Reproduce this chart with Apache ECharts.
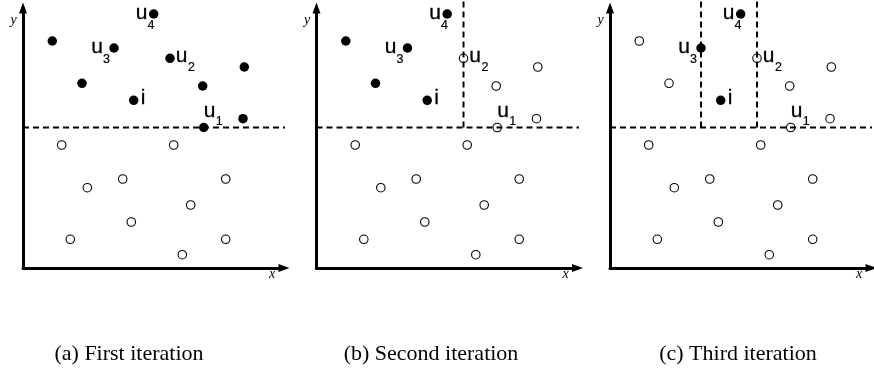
<!DOCTYPE html>
<html>
<head>
<meta charset="utf-8">
<script src="https://cdn.jsdelivr.net/npm/echarts@6/dist/echarts.min.js"></script>
<style>
  html, body { margin: 0; padding: 0; background: #fff; }
  #chart { width: 874px; height: 374px; }
</style>
</head>
<body>
<div id="chart"></div>
<script>
// Point set in plot units (origin at the axes corner).
const pointNames = ['a', 'u4', 'u3', 'u2', 'b', 'c', 'd', 'i', 'e', 'u1',
                    'o1', 'o2', 'o3', 'o4', 'o5', 'o6', 'o7', 'o8', 'o9', 'o10'];
const pointX = [29.3, 130.7, 91, 147, 221.3, 59, 179.7, 110.7, 220, 180.7,
                38.7, 150.7, 99.7, 202.7, 64.3, 167.7, 108.3, 47.3, 202.7, 159.3];
const pointY = [227, 254, 220, 209.7, 201, 184.7, 182, 167.7, 149.3, 140.5,
                123, 123, 89, 89, 80.3, 63, 46, 28.7, 28.7, 13.3];

// Points still candidates at each iteration (drawn filled).
const filledByStep = [
  ['a', 'u4', 'u3', 'u2', 'b', 'c', 'd', 'i', 'e', 'u1'],
  ['a', 'u4', 'u3', 'c', 'i'],
  ['u4', 'u3', 'i']
];
// Points that cut the space: the first gives the horizontal cut, the others vertical cuts.
const cutsByStep = [['u1'], ['u1', 'u2'], ['u1', 'u2', 'u3']];
const regionSize = 268;

const captions = ['(a) First iteration', '(b) Second iteration', '(c) Third iteration'];
const labelNames = ['u1', 'u2', 'u3', 'u4', 'i'];
const labelMain = ['u', 'u', 'u', 'u', 'i'];
const labelSub = ['1', '2', '3', '4', ''];

// ---- layout ----
const panelLeft = [23, 316.5, 610];
const plotTop = 8, plotW = 261, plotH = 260;
const captionX = [129, 431, 738];
const captionY = 354;
const labelOffset = {
  u1: { main: [5.8, -16], sub: [15.5, -5.6] },
  u2: { main: [11.7, -2.2], sub: [21.5, 9.5] },
  u3: { main: [-17, -0.3], sub: [-7.5, 11.5] },
  u4: { main: [-12, -0.7], sub: [-2.7, 11.3] },
  i:  { main: [9.3, -2.5], sub: [0, 0] }
};

const pt = name => { const k = pointNames.indexOf(name); return [pointX[k], pointY[k]]; };

const grid = [], xAxis = [], yAxis = [], series = [], graphic = [];
const axisLine = {
  show: true, onZero: false,
  symbol: ['none', 'triangle'], symbolSize: [8, 11],
  lineStyle: { color: '#000', width: 3 }
};
const nameFont = {
  fontFamily: 'Liberation Sans', color: '#000', opacity: 1,
  textBorderColor: '#000', textBorderWidth: 0.3
};

panelLeft.forEach((left, k) => {
  grid.push({ left: left, top: plotTop, width: plotW, height: plotH });
  const common = {
    gridIndex: k, type: 'value', min: 0,
    axisLine: axisLine, axisTick: { show: false },
    axisLabel: { show: false }, splitLine: { show: false }
  };
  xAxis.push(Object.assign({}, common, { max: plotW }));
  yAxis.push(Object.assign({}, common, { max: plotH }));

  // dashed cuts
  cutsByStep[k].forEach((name, j) => {
    const p = pt(name);
    const yCut = pt(cutsByStep[k][0])[1];
    const data = j === 0 ? [[0, p[1]], [regionSize, p[1]]] : [[p[0], yCut], [p[0], regionSize]];
    series.push({
      type: 'line', xAxisIndex: k, yAxisIndex: k, data: data,
      symbol: 'none', clip: false, silent: true, z: 3,
      lineStyle: { color: '#000', width: 2, type: [6, 4] }
    });
  });

  const filled = filledByStep[k];
  series.push({
    type: 'scatter', xAxisIndex: k, yAxisIndex: k, silent: true, z: 4,
    symbolSize: 9.5, itemStyle: { color: '#000', opacity: 1 },
    data: pointNames.filter(n => filled.includes(n)).map(pt)
  });
  series.push({
    type: 'scatter', xAxisIndex: k, yAxisIndex: k, silent: true, z: 4,
    symbolSize: 8.5,
    itemStyle: { color: 'rgba(0,0,0,0)', borderColor: '#000', borderWidth: 1.1, opacity: 1 },
    data: pointNames.filter(n => !filled.includes(n)).map(pt)
  });

  // point names with subscripts
  const labelData = [];
  labelNames.forEach((name, m) => {
    const p = pt(name);
    const off = labelOffset[name];
    labelData.push({
      value: p,
      label: Object.assign({
        show: true, position: 'inside', formatter: labelMain[m],
        offset: off.main, align: 'center', verticalAlign: 'middle', fontSize: 21
      }, nameFont)
    });
    if (labelSub[m]) {
      labelData.push({
        value: p,
        label: Object.assign({
          show: true, position: 'inside', formatter: labelSub[m],
          offset: off.sub, align: 'center', verticalAlign: 'middle', fontSize: 12.5
        }, nameFont, { textBorderWidth: 0.2 })
      });
    }
  });
  series.push({
    type: 'scatter', xAxisIndex: k, yAxisIndex: k, silent: true, z: 5,
    symbolSize: 1, itemStyle: { color: 'rgba(0,0,0,0)' },
    data: labelData
  });

  // axis names
  graphic.push({
    type: 'text', x: left - 9.5, y: 20,
    style: { text: 'y', font: 'italic 14px "Liberation Serif"', fill: '#000', align: 'center', verticalAlign: 'middle' }
  });
  graphic.push({
    type: 'text', x: left + 249, y: 274,
    style: { text: 'x', font: 'italic 14px "Liberation Serif"', fill: '#000', align: 'center', verticalAlign: 'middle' }
  });
  // caption
  graphic.push({
    type: 'text', x: captionX[k], y: captionY,
    style: { text: captions[k], font: '22px "Liberation Serif"', fill: '#000', align: 'center', verticalAlign: 'middle' }
  });
});

const chart = echarts.init(document.getElementById('chart'), null, { renderer: 'canvas' });
chart.setOption({
  animation: false,
  backgroundColor: '#fff',
  grid: grid, xAxis: xAxis, yAxis: yAxis,
  series: series, graphic: graphic
});
</script>
</body>
</html>
